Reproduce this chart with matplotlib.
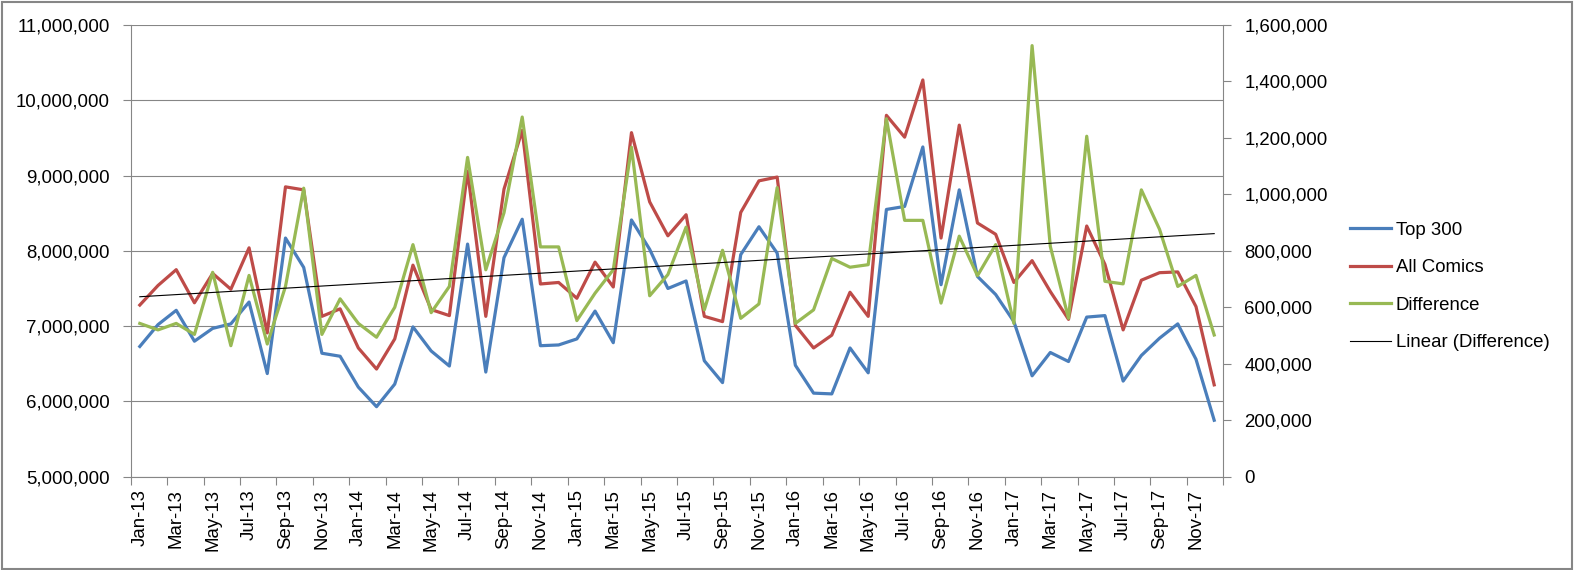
import numpy as np
import matplotlib
matplotlib.use('Agg')
import matplotlib.pyplot as plt
from matplotlib.patches import Rectangle
from matplotlib.ticker import FixedLocator, NullFormatter, FuncFormatter

plt.rcParams['font.family'] = ['Liberation Sans', 'DejaVu Sans']

# categories
month_names = ['Jan', 'Feb', 'Mar', 'Apr', 'May', 'Jun',
               'Jul', 'Aug', 'Sep', 'Oct', 'Nov', 'Dec']
years = ['13', '14', '15', '16', '17']
months = [f'{m}-{y}' for y in years for m in month_names]

# unit sales, millions
top300 = [6.73, 7.02, 7.21, 6.80, 6.97, 7.03, 7.32, 6.37, 8.17, 7.78,
          6.64, 6.60, 6.19, 5.93, 6.23, 6.99, 6.67, 6.47, 8.09, 6.39,
          7.91, 8.42, 6.74, 6.75, 6.83, 7.20, 6.78, 8.41, 8.02, 7.50,
          7.60, 6.54, 6.25, 7.95, 8.32, 7.97, 6.48, 6.11, 6.10, 6.71,
          6.38, 8.55, 8.59, 9.38, 7.55, 8.81, 7.66, 7.42, 7.06, 6.34,
          6.65, 6.53, 7.12, 7.14, 6.27, 6.61, 6.84, 7.03, 6.56, 5.75]

all_comics = [7.28, 7.54, 7.75, 7.31, 7.70, 7.49, 8.04, 6.91, 8.85, 8.81,
              7.13, 7.23, 6.71, 6.43, 6.83, 7.81, 7.22, 7.14, 9.06, 7.13,
              8.82, 9.60, 7.56, 7.58, 7.37, 7.85, 7.52, 9.57, 8.65, 8.20,
              8.48, 7.13, 7.06, 8.51, 8.93, 8.98, 7.01, 6.71, 6.88, 7.45,
              7.13, 9.80, 9.51, 10.27, 8.17, 9.67, 8.37, 8.22, 7.58, 7.87,
              7.46, 7.09, 8.33, 7.82, 6.95, 7.61, 7.71, 7.72, 7.26, 6.22]

# difference, thousands (right axis)
difference = [543, 520, 543, 504, 724, 464, 713, 470, 674, 1022,
              504, 630, 543, 494, 600, 822, 581, 674, 1131, 733,
              935, 1274, 814, 814, 553, 650, 733, 1167, 641, 716,
              884, 591, 802, 561, 612, 1024, 543, 591, 773, 742,
              751, 1268, 908, 908, 615, 852, 712, 822, 543, 1527,
              816, 561, 1206, 692, 683, 1016, 876, 674, 713, 502]

top300 = np.array(top300) * 1e6
all_comics = np.array(all_comics) * 1e6
difference = np.array(difference) * 1e3

GRAY = '#868686'
FS = 13.4

W, H = 1576, 570
fig = plt.figure(figsize=(W / 100, H / 100), dpi=100)
left, right, top, bottom = 130.7, 1223.3, 25, 476.7
ax = fig.add_axes([left / W, 1 - bottom / H, (right - left) / W, (bottom - top) / H])
ax2 = ax.twinx()

x = np.arange(len(months))
l1, = ax.plot(x, top300, color='#4A7EBB', lw=2.3, label='Top 300')
l2, = ax.plot(x, all_comics, color='#BE4B48', lw=2.3, label='All Comics')
l3, = ax2.plot(x, difference, color='#98B954', lw=2.3, label='Difference')
# linear trendline, like Excel's
coef = np.polyfit(x, difference, 1)
l4, = ax2.plot(x, np.polyval(coef, x), color='black', lw=0.8, label='Linear (Difference)')

ax.set_xlim(-0.5, len(months) - 0.5)
ax.set_ylim(5e6, 11e6)
ax2.set_ylim(0, 1.6e6)
ax.set_yticks(np.arange(5e6, 11e6 + 1, 1e6))
ax2.set_yticks(np.arange(0, 1.6e6 + 1, 2e5))
fmt = FuncFormatter(lambda v, p: f'{int(round(v)):,}')
ax.yaxis.set_major_formatter(fmt)
ax2.yaxis.set_major_formatter(fmt)

# tick marks on category edges, labels every other month
ax.xaxis.set_major_locator(FixedLocator(np.arange(-0.5, len(months), 2)))
ax.xaxis.set_major_formatter(NullFormatter())
ax.xaxis.set_minor_locator(FixedLocator(x[::2]))
ax.set_xticklabels(months[::2], minor=True, rotation=90, fontsize=FS)
ax.tick_params(axis='x', which='major', length=6, color=GRAY, width=0.8)
ax.tick_params(axis='x', which='minor', length=0, pad=9)
ax.tick_params(axis='y', length=6, color=GRAY, width=0.8, labelsize=FS, pad=9)
ax2.tick_params(axis='y', length=6, color=GRAY, width=0.8, labelsize=FS, pad=9)

ax.yaxis.grid(True, color=GRAY, lw=0.8)
ax.set_axisbelow(True)
for s in ['top', 'right']:
    ax.spines[s].set_visible(False)
for s in ['top', 'left', 'bottom']:
    ax2.spines[s].set_visible(False)
for s in ['left', 'bottom']:
    ax.spines[s].set_color(GRAY)
    ax.spines[s].set_linewidth(0.8)
ax2.spines['right'].set_color(GRAY)
ax2.spines['right'].set_linewidth(0.8)

fig.legend(handles=[l1, l2, l3, l4], loc='upper left',
           bbox_to_anchor=(1350 / W, 1 - 221.5 / H), frameon=False,
           fontsize=FS, handlelength=2.2, handletextpad=0.25,
           labelspacing=1.1, borderpad=0, borderaxespad=0)

# chart border
fig.patches.append(Rectangle((1.5 / W, 1.5 / H), (1572 - 1.5) / W, (568.5 - 1.5) / H,
                             transform=fig.transFigure, fill=False,
                             edgecolor=GRAY, lw=1.5))

fig.savefig('out.png', dpi=100)
